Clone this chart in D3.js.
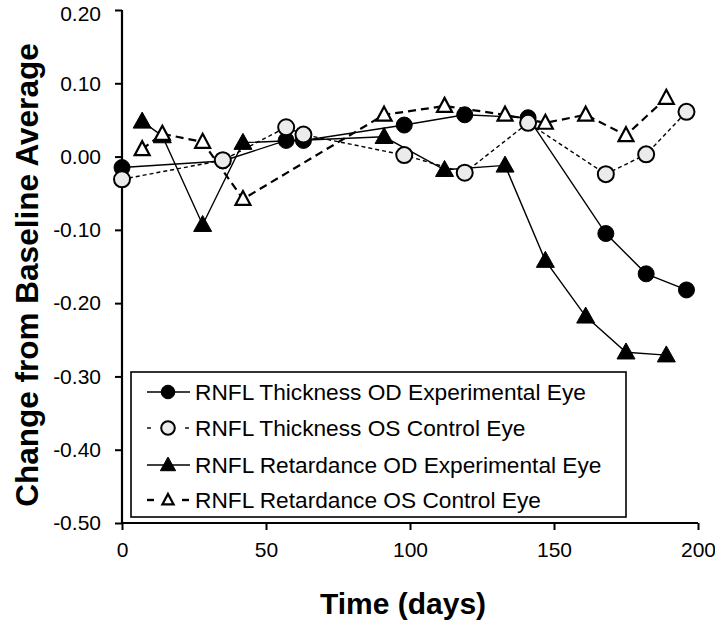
<!DOCTYPE html>
<html><head><meta charset="utf-8">
<script src="https://cdn.jsdelivr.net/npm/d3@7"></script>
<style>body{margin:0;background:#fff}svg{display:block}text{font-family:"Liberation Sans",Arial,sans-serif}</style>
</head><body><svg id="c" width="715" height="620"></svg>
<script>
// ---- data ----
const thickDays = [0, 35, 57, 63, 98, 119, 141, 168, 182, 196];
const thickOD = [-0.015, -0.006, 0.022, 0.022, 0.043, 0.057, 0.053, -0.105, -0.160, -0.182];
const thickOS = [-0.031, -0.005, 0.040, 0.030, 0.002, -0.022, 0.046, -0.024, 0.003, 0.061];
const retDays = [7, 14, 28, 42, 91, 112, 133, 147, 161, 175, 189];
const retOD = [0.048, 0.028, -0.093, 0.019, 0.027, -0.018, -0.012, -0.142, -0.218, -0.267, -0.271];
const retOS = [0.010, 0.031, 0.020, -0.058, 0.057, 0.069, 0.057, 0.046, 0.057, 0.029, 0.080];
const xTicks = [0, 50, 100, 150, 200];
const yTicks = [0.2, 0.1, 0, -0.1, -0.2, -0.3, -0.4, -0.5];
const seriesNames = ["RNFL Thickness OD Experimental Eye", "RNFL Thickness OS Control Eye",
  "RNFL Retardance OD Experimental Eye", "RNFL Retardance OS Control Eye"];

const svg = d3.select("#c");
const x = d3.scaleLinear().domain([0, 200]).range([122, 698]);
const y = d3.scaleLinear().domain([-0.5, 0.2]).range([523, 10]);

const series = [
  {days: thickDays, vals: thickOD, shape: "circle", fill: "#000", dash: null, lw: 1.4},
  {days: thickDays, vals: thickOS, shape: "circle", fill: "#ebebeb", dash: "4,3", lw: 1.4},
  {days: retDays, vals: retOD, shape: "tri", fill: "#000", dash: null, lw: 1.4},
  {days: retDays, vals: retOS, shape: "tri", fill: "#fff", dash: "8,5", lw: 2.2}
];

function triPath(w, h) {
  return `M0,${-h*0.58}L${w/2},${h*0.42}L${-w/2},${h*0.42}Z`;
}
function drawMarker(g, s, cx, cy, scale) {
  if (s.shape === "circle") {
    g.append("circle").attr("cx", cx).attr("cy", cy).attr("r", 8 * scale)
      .attr("fill", s.fill).attr("stroke", "#000").attr("stroke-width", s.fill === "#000" ? 1 : 2);
  } else {
    const hollow = s.fill !== "#000";
    g.append("path").attr("transform", `translate(${cx},${cy})`)
      .attr("d", hollow ? triPath(15 * scale, 14 * scale) : triPath(18 * scale, 16 * scale))
      .attr("fill", s.fill).attr("stroke", "#000").attr("stroke-width", hollow ? 2.2 : 1)
      .attr("stroke-linejoin", "miter");
  }
}

const fmtY = d => d3.format(".2f")(d).replace("\u2212", "-");

// axes
const yAxis = d3.axisLeft(y).tickValues(yTicks).tickFormat(fmtY).tickSize(7).tickSizeOuter(0).tickPadding(14);
const gy = svg.append("g").attr("transform", `translate(${x(0)},0)`).call(yAxis);
const xAxis = d3.axisBottom(x).tickValues(xTicks).tickFormat(d3.format("d")).tickSize(7).tickSizeOuter(0).tickPadding(12);
const gx = svg.append("g").attr("transform", `translate(0,${y(-0.5)})`).call(xAxis);
[gx, gy].forEach(g => {
  g.select(".domain").attr("stroke", "#000").attr("stroke-width", 2.2);
  g.selectAll(".tick line").attr("stroke", "#000").attr("stroke-width", 2);
  g.selectAll(".tick text").attr("fill", "#000").style("font-size", "21px")
    .style("font-family", "'Liberation Sans', Arial, sans-serif");
});
gy.selectAll(".tick text").filter(d => d === 0.2).attr("dy", "0.5em");
gy.select(".domain").attr("d", `M0,${y(0.2)}V${y(-0.5) + 1}`);
gx.select(".domain").attr("d", `M${x(0) - 1},0H${x(200)}`);

// lines
const plot = svg.append("g");
series.forEach(s => {
  const line = d3.line().x((d, i) => x(s.days[i])).y(d => y(d));
  plot.append("path").datum(s.vals).attr("d", line).attr("fill", "none")
    .attr("stroke", "#000").attr("stroke-width", s.lw)
    .attr("stroke-dasharray", s.dash);
});
series.forEach(s => {
  const g = plot.append("g");
  s.vals.forEach((v, i) => drawMarker(g, s, x(s.days[i]), y(v), 1));
});

// legend
const leg = svg.append("g");
leg.append("rect").attr("x", 131).attr("y", 372).attr("width", 495).attr("height", 145)
  .attr("fill", "#fff").attr("stroke", "#000").attr("stroke-width", 1.6);
const rowY = [392, 428, 465, 500];
series.forEach((s, i) => {
  const cy = rowY[i];
  if (s.dash === null) {
    leg.append("line").attr("x1", 147).attr("x2", 190).attr("y1", cy).attr("y2", cy)
      .attr("stroke", "#000").attr("stroke-width", 1.4);
  } else {
    const segs = i === 1 ? [[147, 151], [185, 189]] : [[147, 154], [182, 189]];
    segs.forEach(sg => leg.append("line").attr("x1", sg[0]).attr("x2", sg[1]).attr("y1", cy).attr("y2", cy)
      .attr("stroke", "#000").attr("stroke-width", i === 1 ? 1.4 : 2.4));
  }
  drawMarker(leg, s, 168, cy, i === 3 ? 0.75 : 0.85);
  leg.append("text").attr("x", 195).attr("y", cy).attr("dy", "0.36em")
    .style("font-size", "22.7px").attr("fill", "#000").text(seriesNames[i]);
});

// titles
svg.append("text").attr("transform", `translate(38,${275}) rotate(-90)`)
  .attr("text-anchor", "middle").style("font-size", "31.5px").style("font-weight", "bold")
  .text("Change from Baseline Average");
svg.append("text").attr("x", 403).attr("y", 614).attr("text-anchor", "middle")
  .style("font-size", "30px").style("font-weight", "bold").text("Time (days)");
</script></body></html>
